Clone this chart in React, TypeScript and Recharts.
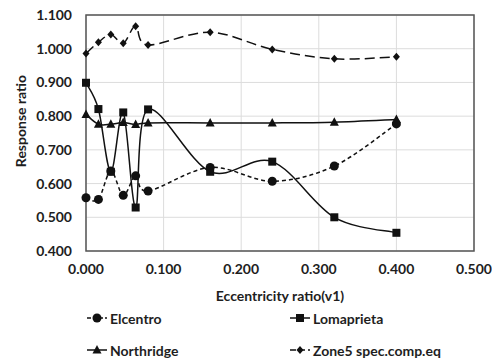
import React from 'react';
import {
  LineChart,
  Line,
  XAxis,
  YAxis,
  CartesianGrid,
  ReferenceArea,
  Legend,
} from 'recharts';

const eccentricity = [0, 0.016, 0.032, 0.048, 0.064, 0.08, 0.16, 0.24, 0.32, 0.4];
const elcentro = [0.558, 0.553, 0.637, 0.565, 0.623, 0.578, 0.648, 0.607, 0.652, 0.777];
const lomaprieta = [0.899, 0.821, 0.635, 0.811, 0.529, 0.82, 0.635, 0.665, 0.5, 0.454];
const northridge = [0.805, 0.776, 0.776, 0.781, 0.775, 0.78, 0.78, 0.78, 0.782, 0.79];
const zone5 = [0.986, 1.019, 1.042, 1.016, 1.067, 1.011, 1.049, 0.998, 0.97, 0.976];

const xTicks = [0, 0.1, 0.2, 0.3, 0.4, 0.5];
const yTicks = [0.4, 0.5, 0.6, 0.7, 0.8, 0.9, 1.0, 1.1];

const data = eccentricity.map((x, i) => ({
  x,
  elcentro: elcentro[i],
  lomaprieta: lomaprieta[i],
  northridge: northridge[i],
  zone5: zone5[i],
}));

const FONT = 'Lato, "Open Sans", sans-serif';
const INK = '#111';

// excel-ish smoothing (catmull-rom through the points)
function smooth(context: any) {
  let pts: number[][] = [];
  return {
    areaStart() {},
    areaEnd() {},
    lineStart() {
      pts = [];
    },
    point(x: number, y: number) {
      pts.push([+x, +y]);
    },
    lineEnd() {
      if (!pts.length) return;
      context.moveTo(pts[0][0], pts[0][1]);
      for (let i = 0; i < pts.length - 1; i++) {
        const p0 = pts[i - 1] || pts[i];
        const p1 = pts[i];
        const p2 = pts[i + 1];
        const p3 = pts[i + 2] || p2;
        context.bezierCurveTo(
          p1[0] + (p2[0] - p0[0]) / 6,
          p1[1] + (p2[1] - p0[1]) / 6,
          p2[0] - (p3[0] - p1[0]) / 6,
          p2[1] - (p3[1] - p1[1]) / 6,
          p2[0],
          p2[1]
        );
      }
    },
  };
}

function Mark({ shape, cx, cy }: any) {
  if (cx == null || cy == null) return null;
  if (shape === 'circle') return <circle cx={cx} cy={cy} r={4.5} fill={INK} />;
  if (shape === 'square') return <rect x={cx - 4} y={cy - 4} width={8} height={8} fill={INK} />;
  if (shape === 'triangle')
    return <polygon points={`${cx},${cy - 5} ${cx + 4.5},${cy + 3.5} ${cx - 4.5},${cy + 3.5}`} fill={INK} />;
  return <polygon points={`${cx},${cy - 4} ${cx + 3.5},${cy} ${cx},${cy + 4} ${cx - 3.5},${cy}`} fill={INK} />;
}

const series = [
  { key: 'elcentro', name: 'Elcentro', shape: 'circle', dash: '4 3' },
  { key: 'lomaprieta', name: 'Lomaprieta', shape: 'square', dash: undefined },
  { key: 'northridge', name: 'Northridge', shape: 'triangle', dash: undefined },
  { key: 'zone5', name: 'Zone5 spec.comp.eq', shape: 'diamond', dash: '10 5' },
];

function LegendBox() {
  return (
    <div
      style={{
        display: 'grid',
        gridTemplateColumns: '203px 200px',
        rowGap: 12,
        fontFamily: FONT,
        fontWeight: 700,
        fontSize: 14,
        color: '#1e1e1e',
      }}
    >
      {series.map((s) => (
        <div key={s.key} style={{ display: 'flex', alignItems: 'center', height: 20 }}>
          <svg width={20} height={12} style={{ marginRight: 3 }}>
            <line
              x1={0}
              y1={6}
              x2={20}
              y2={6}
              stroke={INK}
              strokeWidth={1.5}
              strokeDasharray={s.shape === 'diamond' ? '6 3' : s.dash ? '4 2' : undefined}
            />
            <Mark shape={s.shape} cx={10} cy={6} />
          </svg>
          <span>{s.name}</span>
        </div>
      ))}
    </div>
  );
}

const tickStyle = { fontFamily: FONT, fontWeight: 700, fontSize: 14, fill: '#1e1e1e' };

export default function App() {
  return (
    <div style={{ position: 'absolute', left: 0, top: 0, width: 492, height: 359, background: '#fff' }}>
      <LineChart width={492} height={359} data={data} margin={{ top: 15, right: 18, left: 0, bottom: 58 }}>
        <CartesianGrid stroke="#dcdcdc" strokeWidth={1} />
        <XAxis
          dataKey="x"
          type="number"
          domain={[0, 0.5]}
          ticks={xTicks}
          tickFormatter={(v: number) => v.toFixed(3)}
          tick={tickStyle}
          tickLine={false}
          tickSize={0}
          tickMargin={13}
          axisLine={false}
          height={50}
          label={{
            content: ({ viewBox }: any) => (
              <text
                x={viewBox.x + viewBox.width / 2}
                y={viewBox.y + 50}
                textAnchor="middle"
                style={{ ...tickStyle }}
              >
                Eccentricity ratio(v1)
              </text>
            ),
          }}
        />
        <YAxis
          type="number"
          domain={[0.4, 1.1]}
          ticks={yTicks}
          tickFormatter={(v: number) => v.toFixed(3)}
          tick={tickStyle}
          tickLine={false}
          tickSize={0}
          tickMargin={14}
          axisLine={false}
          width={86}
          label={{
            content: ({ viewBox }: any) => {
              const cx = 20;
              const cy = viewBox.y + viewBox.height / 2 - 12;
              return (
                <text
                  x={cx}
                  y={cy}
                  transform={`rotate(-90 ${cx} ${cy})`}
                  textAnchor="middle"
                  dominantBaseline="central"
                  style={{ ...tickStyle }}
                >
                  Response ratio
                </text>
              );
            },
          }}
        />
        <ReferenceArea
          x1={0}
          x2={0.5}
          y1={0.4}
          y2={1.1}
          fill="none"
          stroke="#555"
          strokeWidth={1.5}
          ifOverflow="visible"
        />
        {series.map((s) => (
          <Line
            key={s.key}
            dataKey={s.key}
            name={s.name}
            type={smooth as any}
            stroke={INK}
            strokeWidth={1.5}
            strokeDasharray={s.dash}
            isAnimationActive={false}
            dot={(p: any) => <Mark key={p.index} shape={s.shape} cx={p.cx} cy={p.cy} />}
            activeDot={false}
          />
        ))}
        <Legend
          layout="horizontal"
          verticalAlign="middle"
          align="center"
          content={() => <LegendBox />}
          wrapperStyle={{ left: 87, top: 308, width: 420, height: 60 }}
        />
      </LineChart>
    </div>
  );
}
